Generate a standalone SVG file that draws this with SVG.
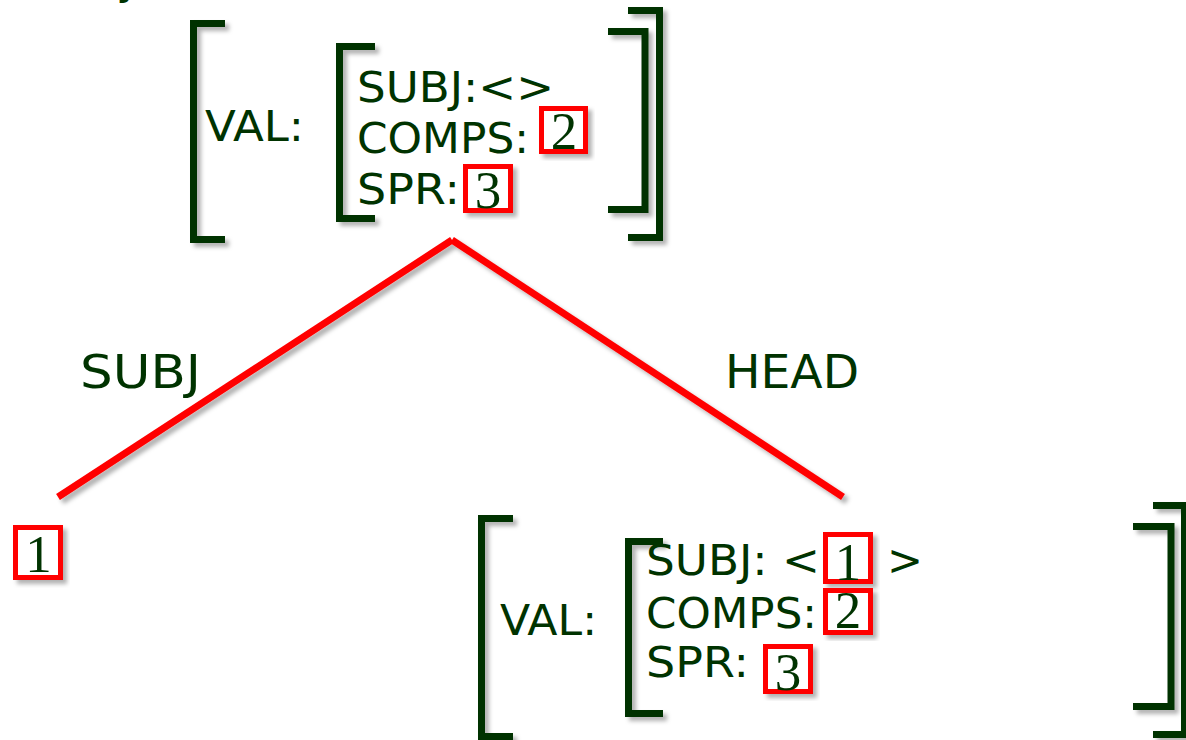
<svg xmlns="http://www.w3.org/2000/svg" width="1186" height="740" viewBox="0 0 1186 740">
<style>
.t{font-family:"DejaVu Sans","Liberation Sans",sans-serif;font-size:43px;fill:#003300}
.lbl{font-family:"DejaVu Sans","Liberation Sans",sans-serif;font-size:46px;fill:#003300}
.d{font-family:"Liberation Serif","DejaVu Serif",serif;font-size:53px;fill:#003300;text-anchor:middle}
.br{fill:none;stroke:#003300;stroke-width:7;stroke-linejoin:miter;stroke-linecap:butt}
.bx{fill:#ffffff;stroke:#ff0000;stroke-width:5}
.ln{stroke:#ff0000;stroke-width:7;stroke-linecap:butt}
</style>
<defs>
<filter id="sh" x="-20%" y="-20%" width="140%" height="140%">
<feDropShadow dx="4" dy="4" stdDeviation="2" flood-color="#000000" flood-opacity="0.3"/>
</filter>
</defs>
<rect width="1186" height="740" fill="#ffffff"/>
<text class="lbl" x="116" y="-7">y</text>
<g id="connectors" filter="url(#sh)">
<line class="ln" x1="452" y1="240" x2="58" y2="497"/>
<line class="ln" x1="452" y1="240" x2="843" y2="497"/>
</g>
<g id="edge-labels">
<text class="lbl" x="80" y="388" textLength="121" lengthAdjust="spacingAndGlyphs">SUBJ</text>
<text class="lbl" x="725" y="388" textLength="134" lengthAdjust="spacingAndGlyphs">HEAD</text>
</g>
<g id="top-node">
<g filter="url(#sh)">
<path class="br" d="M225,23.5 H193.5 V239.5 H225"/>
<path class="br" d="M375,46.5 H339.5 V218.5 H375"/>
<path class="br" d="M608,31.5 H645 V209.5 H608"/>
<path class="br" d="M628,10.5 H659.5 V237.5 H628"/>
</g>
<text class="t" x="205" y="141" textLength="99" lengthAdjust="spacingAndGlyphs">VAL:</text>
<text class="t" x="357" y="102" textLength="197" lengthAdjust="spacingAndGlyphs">SUBJ:&lt;&gt;</text>
<text class="t" x="357" y="153" textLength="172" lengthAdjust="spacingAndGlyphs">COMPS:</text>
<text class="t" x="357" y="204" textLength="103" lengthAdjust="spacingAndGlyphs">SPR:</text>
<rect class="bx" x="541.5" y="108.5" width="44" height="43" filter="url(#sh)"/>
<text class="d" x="564" y="149">2</text>
<rect class="bx" x="465.5" y="166.5" width="45" height="44" filter="url(#sh)"/>
<text class="d" x="488" y="208">3</text>
</g>
<g id="subj-node">
<rect class="bx" x="15.5" y="527.5" width="45" height="50" filter="url(#sh)"/>
<text class="d" x="38.5" y="572">1</text>
</g>
<g id="head-node">
<g filter="url(#sh)">
<path class="br" d="M513,518.5 H481.5 V736.5 H513"/>
<path class="br" d="M663,541.5 H628.5 V713.5 H663"/>
<path class="br" d="M1133,526.5 H1171 V706.5 H1133"/>
<path class="br" d="M1153,505.5 H1184.5 V734.5 H1153"/>
</g>
<text class="t" x="500" y="635" textLength="97" lengthAdjust="spacingAndGlyphs">VAL:</text>
<text class="t" x="646" y="575" textLength="174" lengthAdjust="spacingAndGlyphs">SUBJ: &lt;</text>
<text class="t" x="887" y="575">&gt;</text>
<text class="t" x="646" y="628" textLength="171" lengthAdjust="spacingAndGlyphs">COMPS:</text>
<text class="t" x="646" y="677" textLength="103" lengthAdjust="spacingAndGlyphs">SPR:</text>
<rect class="bx" x="825.5" y="534.5" width="45" height="47" filter="url(#sh)"/>
<text class="d" x="848" y="580">1</text>
<rect class="bx" x="825.5" y="590.5" width="45" height="42" filter="url(#sh)"/>
<text class="d" x="848" y="628">2</text>
<rect class="bx" x="765.5" y="646.5" width="45" height="45" filter="url(#sh)"/>
<text class="d" x="788" y="690">3</text>
</g>
</svg>
